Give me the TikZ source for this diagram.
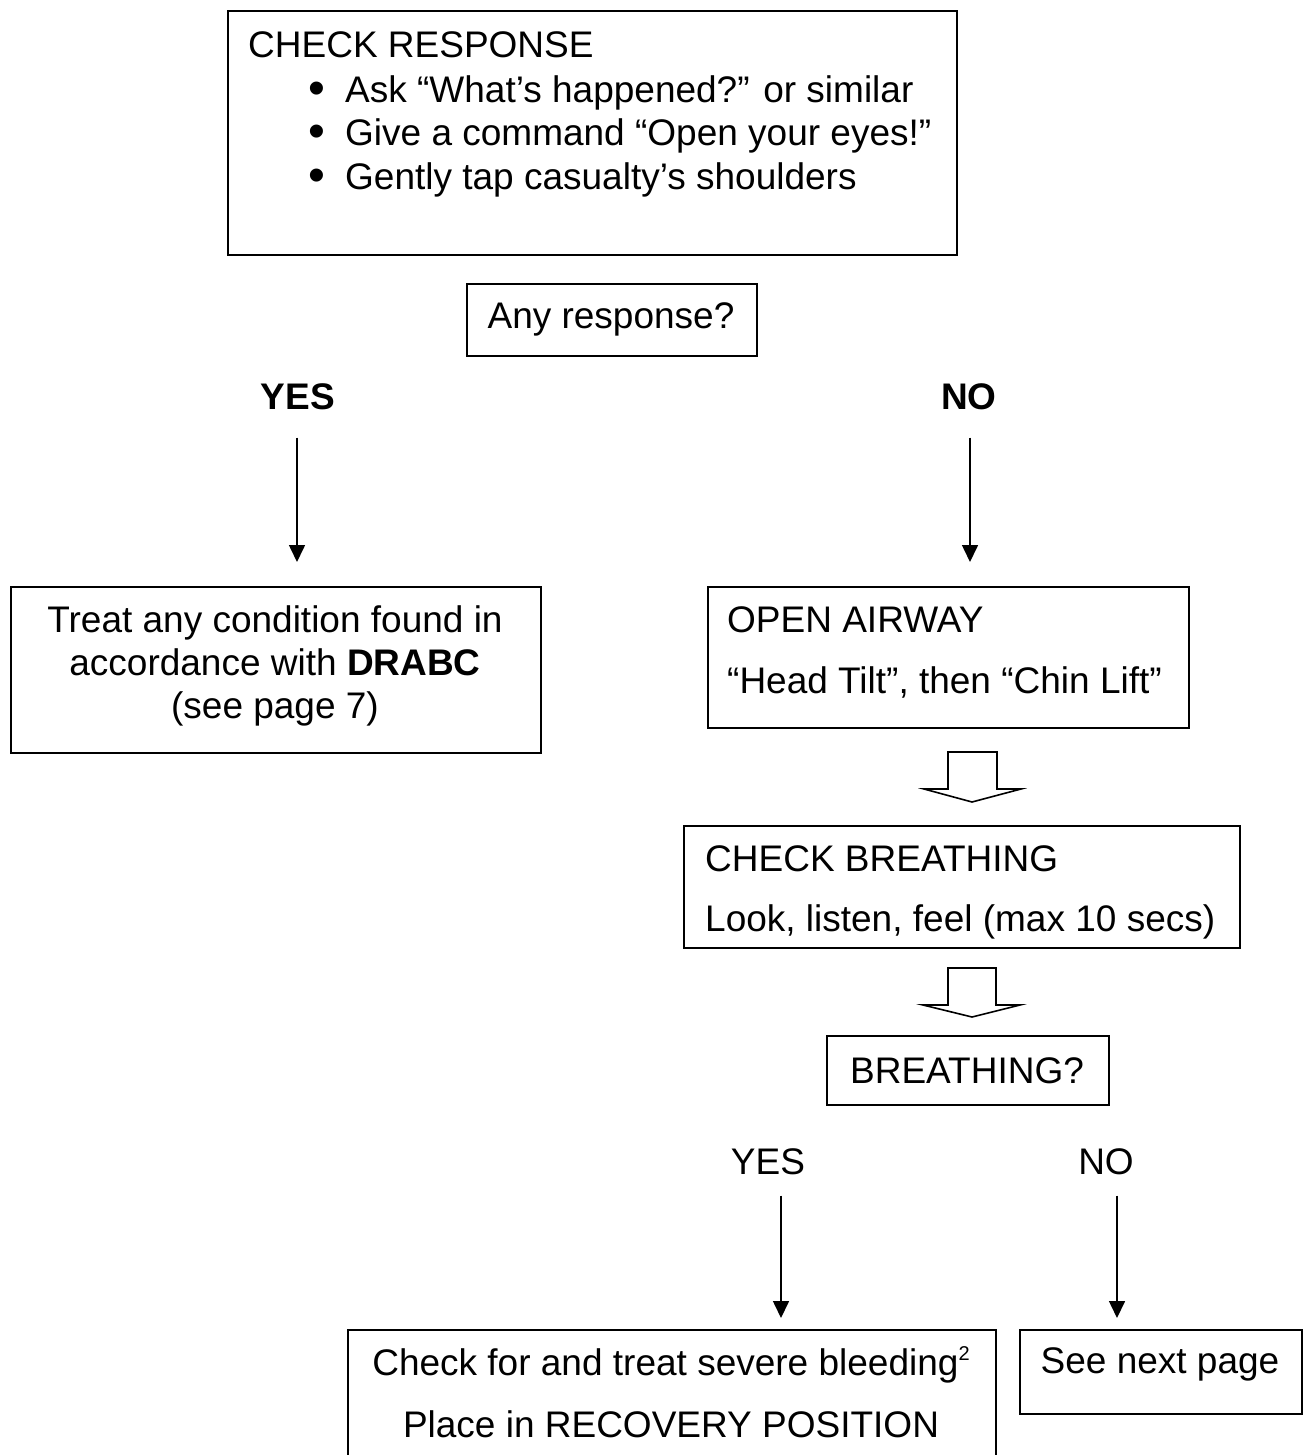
\documentclass[tikz,border=0pt]{standalone}
\usepackage{fontspec}
\setmainfont{Liberation Sans}
\usetikzlibrary{arrows.meta,
                positioning}

\begin{document}
\begin{tikzpicture}[x=1pt,y=-1pt,
  box/.style={draw,line width=1.6pt,inner sep=0pt,anchor=north west},
  txt/.style={inner sep=0pt,anchor=base west,font=\fontsize{37}{43.5}\selectfont},
  ctxt/.style={txt,anchor=base},
  down/.style={-{Triangle[length=17pt,width=16pt]},line width=1.6pt},
  blockarrow/.style={draw,line width=1.6pt,line join=miter}]
 \useasboundingbox (0,0) rectangle (1306,1455);
 % check response
 \node[box,minimum width=729pt,minimum height=244pt] (resp) at (227,10) {};
 \node[txt] (resphead) at (248,58) {CHECK RESPONSE};
 \foreach \t [count=\i] in {Ask “What’s happened?” or similar,
                            Give a command “Open your eyes!”,
                            Gently tap casualty’s shoulders}
   \node[txt] (bul\i) at (345,59+43.5*\i)
     {\llap{\smash{\raisebox{-2pt}{\scalebox{1.3}{\textbullet}}}\hspace{20pt}}\t};
 \node[box,minimum width=290pt,minimum height=72pt] (any) at (466,283) {};
 \node[ctxt] (anytxt) at (611,328) {Any response?};
 \node[ctxt] (yesa) at (298,409) {\bfseries YES};
 \node[ctxt] (noa) at (969,409) {\bfseries NO};
 % yes branch
 \node[box,minimum width=530pt,minimum height=166pt] (treat) at (10,586) {};
 \node[ctxt] (treat1) at (275,632) {Treat any condition found in};
 \node[ctxt] (treat2) at (275,675) {accordance with \textbf{DRABC}};
 \node[ctxt] (treat3) at (275,718) {(see page 7)};
 % no branch
 \node[box,minimum width=481pt,minimum height=141pt] (airway) at (707,586) {};
 \node[txt] (airway1) at (727,632) {OPEN AIRWAY};
 \node[txt] (airway2) at (727,693) {“Head Tilt”, then “Chin Lift”};
 \node[box,minimum width=556pt,minimum height=122pt] (check) at (683,825) {};
 \node[txt] (check1) at (705,871) {CHECK BREATHING};
 \node[txt] (check2) at (705,931) {Look, listen, feel (max 10 secs)};
 \node[box,minimum width=282pt,minimum height=69pt] (breath) at (826,1035) {};
 \node[ctxt] (breathtxt) at (967,1083) {BREATHING?};
 \node[ctxt] (yesb) at (768,1174) {YES};
 \node[ctxt] (nob) at (1106,1174) {NO};
 \node[box,minimum width=648pt,minimum height=150pt] (bleed) at (347,1329) {};
 \node[ctxt] (bleed1) at (671,1375)
   {Check for and treat severe bleeding\raisebox{15pt}{\fontsize{20}{20}\selectfont 2}};
 \node[ctxt] (bleed2) at (671,1437) {Place in RECOVERY POSITION};
 \node[box,minimum width=282pt,minimum height=84pt] (next) at (1019,1329) {};
 \node[ctxt] (nexttxt) at (1160,1373) {See next page};
 % arrows
 \coordinate (ya) at ([xshift=-1pt,yshift=-28pt]yesa.south);
 \coordinate (na) at ([xshift=1pt,yshift=-28pt]noa.south);
 \coordinate (yb) at ([xshift=13pt,yshift=-21pt]yesb.south);
 \coordinate (nb) at ([xshift=11pt,yshift=-21pt]nob.south);
 \draw[down,shorten >=24pt] (ya) -- (ya |- treat.north);
 \draw[down,shorten >=24pt] (na) -- (na |- airway.north);
 \draw[down,shorten >=11pt] (yb) -- (yb |- bleed.north);
 \draw[down,shorten >=11pt] (nb) -- (nb |- next.north);
 \draw[blockarrow] (948,752) -- (948,789) -- (924,789) -- (972,802)
   -- (1021,789) -- (997,789) -- (997,752) -- cycle;
 \draw[blockarrow] (948,968) -- (948,1005) -- (923,1005) -- (972,1017)
   -- (1020,1005) -- (996,1005) -- (996,968) -- cycle;
\end{tikzpicture}
\end{document}
